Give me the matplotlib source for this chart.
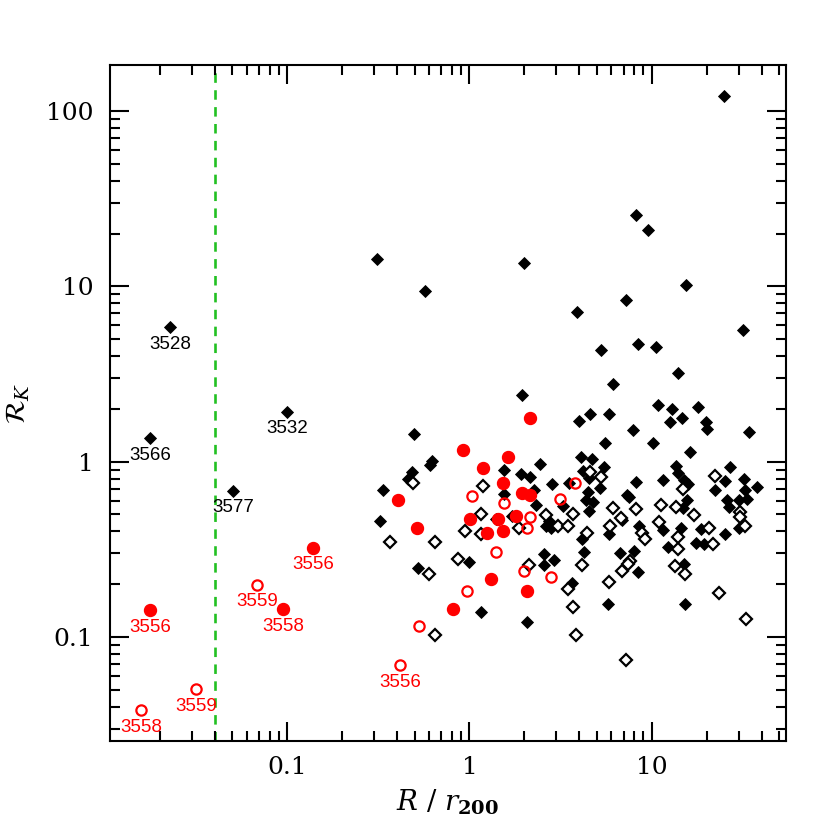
import numpy as np
import matplotlib
matplotlib.use("Agg")
import matplotlib.pyplot as plt
from matplotlib.ticker import FixedLocator, FixedFormatter, LogLocator, NullFormatter

# black filled diamonds
filled_x = [24.9, 8.17, 9.5, 2.0, 15.4, 7.2, 3.87, 31.6, 5.25, 8.38, 10.5, 14.0, 6.11, 0.312, 0.573, 1.95,
            10.8, 12.9, 17.9, 4.56, 5.8, 3.97, 12.6, 14.6, 19.8, 20.0, 34.2, 7.87, 5.52, 10.1, 16.2,
            0.499, 0.626, 0.61, 2.45, 4.07, 4.68, 5.45, 4.18, 4.51, 13.5, 14.0, 26.8, 11.5, 15.0, 15.8, 25.2, 32.0, 37.8, 22.2, 32.4,
            15.6, 14.8, 25.8, 26.5, 30.1, 33.2, 30.1, 11.5, 14.4, 18.6, 25.2, 12.2, 17.5, 19.3, 15.0, 15.2,
            8.17, 7.29, 7.47, 5.18, 4.45, 4.34, 4.74, 4.51, 2.82, 3.5, 3.24, 5.8, 6.84, 8.49, 7.96, 6.67, 8.38, 5.73, 3.64, 4.23, 4.13,
            2.55, 2.9, 2.55, 2.62, 2.72, 2.79, 2.08, 1.54, 1.91, 2.16, 2.27, 1.54, 2.33, 1.72, 1.39, 0.99, 0.524, 1.16, 0.337, 0.324, 0.486, 0.462]
filled_y = [122, 25.5, 21.0, 13.6, 10.2, 8.4, 7.16, 5.65, 4.35, 4.7, 4.52, 3.21, 2.78, 14.4, 9.42, 2.41,
            2.11, 2.0, 2.06, 1.88, 1.88, 1.71, 1.69, 1.78, 1.69, 1.54, 1.48, 1.52, 1.28, 1.28, 1.14,
            1.43, 1.01, 0.96, 0.974, 1.07, 1.03, 0.937, 0.889, 0.81, 0.949, 0.866, 0.937, 0.79, 0.79, 0.749, 0.78, 0.80, 0.72, 0.693, 0.693,
            0.607, 0.547, 0.607, 0.554, 0.607, 0.616, 0.421, 0.405, 0.421, 0.415, 0.389, 0.324, 0.345, 0.341, 0.262, 0.155,
            0.77, 0.649, 0.625, 0.71, 0.675, 0.607, 0.592, 0.52, 0.749, 0.759, 0.561, 0.389, 0.467, 0.432, 0.311, 0.303, 0.236, 0.155, 0.202, 0.307, 0.36,
            0.299, 0.276, 0.259, 0.432, 0.461, 0.421, 0.121, 0.90, 0.854, 0.821, 0.693, 0.657, 0.569, 0.493, 0.473, 0.269, 0.246, 0.138, 0.693, 0.461, 0.877, 0.80]

# black open diamonds
open_x = [4.56, 5.25, 3.68, 6.11, 8.17, 14.8, 22.2, 30.5, 30.5, 32.4, 11.2, 13.5, 17.0, 10.9, 13.9, 20.6, 21.6, 13.9, 13.4, 15.2,
          23.3, 32.8, 8.81, 9.15, 6.76, 5.88, 7.57, 7.38, 6.84, 5.8, 7.2, 3.68, 3.82, 3.45, 4.13, 4.39, 2.62, 3.05, 3.45, 1.86,
          2.11, 1.19, 0.492, 0.368, 0.65, 1.16, 0.94, 1.15, 0.87, 0.596, 0.65]
open_y = [0.877, 0.821, 0.506, 0.547, 0.54, 0.702, 0.832, 0.519, 0.486, 0.432, 0.569, 0.554, 0.499, 0.455, 0.374, 0.421, 0.337, 0.319, 0.255, 0.23,
          0.179, 0.126, 0.394, 0.36, 0.48, 0.432, 0.273, 0.262, 0.239, 0.207, 0.0735, 0.149, 0.103, 0.187, 0.259, 0.394, 0.499, 0.432, 0.432, 0.421,
          0.259, 0.73, 0.759, 0.35, 0.35, 0.506, 0.40, 0.389, 0.28, 0.23, 0.103]

# red filled circles
red_x = [2.16, 1.62, 0.916, 1.18, 1.52, 1.95, 2.14, 1.81, 0.407, 0.518, 1.01, 1.44, 1.52, 1.24, 1.32, 0.817, 2.08]
red_y = [1.78, 1.07, 1.16, 0.924, 0.759, 0.666, 0.649, 0.493, 0.607, 0.421, 0.473, 0.473, 0.40, 0.394, 0.213, 0.145, 0.182]

# red open circles
redo_x = [1.03, 1.54, 2.16, 2.08, 3.78, 3.12, 1.39, 2.0, 2.79, 0.975, 0.531]
redo_y = [0.64, 0.584, 0.486, 0.421, 0.759, 0.616, 0.306, 0.239, 0.221, 0.182, 0.116]

# labelled objects
lab_names = ["3528", "3566", "3532", "3577", "3556", "3556", "3558", "3559", "3556", "3559", "3558"]
lab_x = [0.0228, 0.0177, 0.1, 0.0505, 0.0177, 0.139, 0.095, 0.0684, 0.418, 0.0316, 0.0158]
lab_y = [5.88, 1.37, 1.93, 0.684, 0.1416, 0.3236, 0.1435, 0.199, 0.0688, 0.0502, 0.0381]
lab_kind = ["bf", "bf", "bf", "bf", "rf", "rf", "rf", "ro", "ro", "ro", "ro"]

r_lim = 0.04

plt.rcParams['mathtext.fontset'] = 'dejavuserif'

fig = plt.figure(figsize=(8.3, 8.3), dpi=100)
ax = fig.add_axes([0.1325, 0.1072, 0.8145, 0.8145])
ax.set_xscale('log')
ax.set_yscale('log')
ax.set_xlim(0.01066, 54.5)
ax.set_ylim(0.0255, 183)

ax.axvline(r_lim, color='#22c022', lw=1.9, linestyle=(0, (3.6, 2.8)), zorder=1)

FD = dict(marker='D', ms=6.6, color='k', mec='k', mew=0.6, linestyle='none', zorder=3)
OD = dict(marker='D', ms=6.0, mfc='white', mec='k', mew=1.6, linestyle='none', zorder=4)
RF = dict(marker='o', ms=8.6, color='red', mec='red', linestyle='none', zorder=5)
RO = dict(marker='o', ms=7.4, mfc='none', mec='red', mew=1.6, linestyle='none', zorder=5)

ax.plot(filled_x, filled_y, **FD)
ax.plot(open_x, open_y, **OD)
ax.plot(red_x, red_y, **RF)
ax.plot(redo_x, redo_y, **RO)

for name, x, y, kind in zip(lab_names, lab_x, lab_y, lab_kind):
    col = 'k' if kind == 'bf' else 'red'
    style = {'bf': FD, 'rf': RF, 'ro': RO}[kind]
    ax.plot(x, y, **style)
    ax.annotate(name, (x, y), xytext=(0, -12.5), textcoords='offset points',
                ha='center', va='center', color=col, fontsize=13.5, family='Liberation Sans')

for s in ax.spines.values():
    s.set_linewidth(1.5)

ax.xaxis.set_major_locator(FixedLocator([0.1, 1, 10]))
ax.xaxis.set_major_formatter(FixedFormatter(["0.1", "1", "10"]))
ax.yaxis.set_major_locator(FixedLocator([0.1, 1, 10, 100]))
ax.yaxis.set_major_formatter(FixedFormatter(["0.1", "1", "10", "100"]))
ax.xaxis.set_minor_locator(LogLocator(base=10, subs=np.arange(2, 10), numticks=20))
ax.yaxis.set_minor_locator(LogLocator(base=10, subs=np.arange(2, 10), numticks=20))
ax.xaxis.set_minor_formatter(NullFormatter())
ax.yaxis.set_minor_formatter(NullFormatter())

ax.tick_params(which='both', direction='in', top=True, right=True, width=1.5, color='k')
ax.tick_params(which='major', length=14)
ax.tick_params(which='minor', length=7)
ax.tick_params(axis='x', which='major', pad=11)
ax.tick_params(axis='y', which='major', pad=12)
for lbl in ax.get_xticklabels() + ax.get_yticklabels():
    lbl.set_family('DejaVu Serif')
    lbl.set_fontsize(18)

ax.set_xlabel(r'$R\ /\ r_{\mathbf{200}}$', fontsize=20, labelpad=6)
ax.set_ylabel(r'$\mathcal{R}_K$', fontsize=20, labelpad=10)

fig.savefig("out.png", dpi=100)
